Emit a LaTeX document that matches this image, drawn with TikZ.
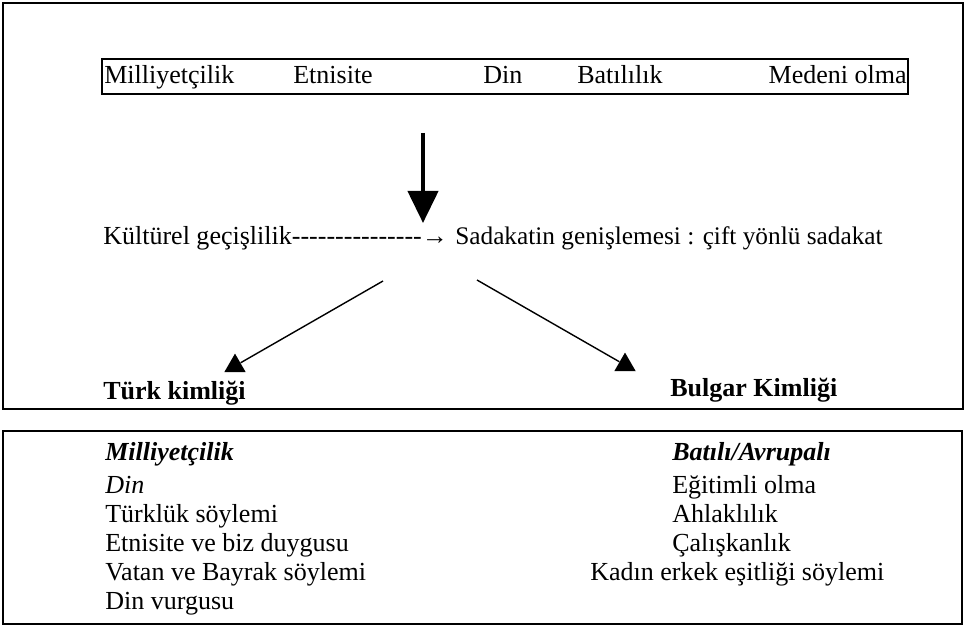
\documentclass[tikz,border=0pt]{standalone}
\usepackage{fontspec}
\setmainfont{Liberation Serif}
\usepackage{tikz}
\usetikzlibrary{arrows.meta,positioning,shapes.geometric}

\newcommand{\dashrun}{\foreach \i in {1,...,15}{-}}

\begin{document}
\begin{tikzpicture}[x=0.025cm, y=-0.025cm,
  txt/.style={font=\fontsize{18.5}{22}\selectfont,inner sep=0pt,anchor=west,text height=13pt,text depth=4pt},
  bold/.style={txt,font=\fontsize{18.5}{22}\selectfont\bfseries},
  head/.style={txt,font=\fontsize{18.5}{22}\selectfont\bfseries\itshape},
  frame/.style={draw=black,line width=1pt},
  bigarr/.style={-{Triangle[length=0.8cm,width=0.75cm]},line width=3pt},
  arr/.style={line width=1pt},
  tip/.style={regular polygon,regular polygon sides=3,fill=black,minimum size=0.62cm,inner sep=0pt}
]
\useasboundingbox (0,0) rectangle (966,629);

% Frames
\draw[frame] (3,3) rectangle (963,409);
\draw[frame] (3,431) rectangle (962,624);
\draw[line width=0.9pt] (102,59) rectangle (908,94);

% Top row
\node[txt] (mil) at (104,77) {Milliyetçilik};
\node[txt] (etn) at (293,77) {Etnisite};
\node[txt] (din) at (483,77) {Din};
\node[txt] (bat) at (577,77) {Batılılık};
\node[txt,anchor=east] (med) at (907,77) {Medeni olma};

% Middle line
\coordinate (dtop) at (423,133);
\coordinate (dtip) at (423,223);
\node[txt] (kul) at (103,238) {Kültürel geçişlilik\dashrun→};
\node[txt,font=\fontsize{18}{22}\selectfont] (sad) at (455,238) {Sadakatin genişlemesi : çift yönlü sadakat};

% Identities
\coordinate (lstart) at (383,281);
\coordinate (rstart) at (477,280);
\node[tip] (ltip) at (235,366) {};
\node[tip] (rtip) at (625,365) {};
\node[bold] (turk) at (103,393) {Türk kimliği};
\node[bold] (bul) at (670,390) {Bulgar Kimliği};

\draw[bigarr] (dtop) -- (dtip);
\draw[arr] (lstart) -- (ltip);
\draw[arr] (rstart) -- (rtip);

% Left column
\node[head] (lh) at (105,454) {Milliyetçilik};
\node[txt,font=\fontsize{18.5}{22}\selectfont\itshape] (l1) at (105,487) {Din};
\node[txt] (l2) at (105,516) {Türklük söylemi};
\node[txt] (l3) at (105,545) {Etnisite ve biz duygusu};
\node[txt] (l4) at (105,574) {Vatan ve Bayrak söylemi};
\node[txt] (l5) at (105,603) {Din vurgusu};

% Right column
\node[head] (rh) at (672,454) {Batılı/Avrupalı};
\node[txt] (r1) at (672,487) {Eğitimli olma};
\node[txt] (r2) at (672,516) {Ahlaklılık};
\node[txt] (r3) at (672,545) {Çalışkanlık};
\node[txt] (r4) at (590,574) {Kadın erkek eşitliği söylemi};
\end{tikzpicture}
\end{document}
